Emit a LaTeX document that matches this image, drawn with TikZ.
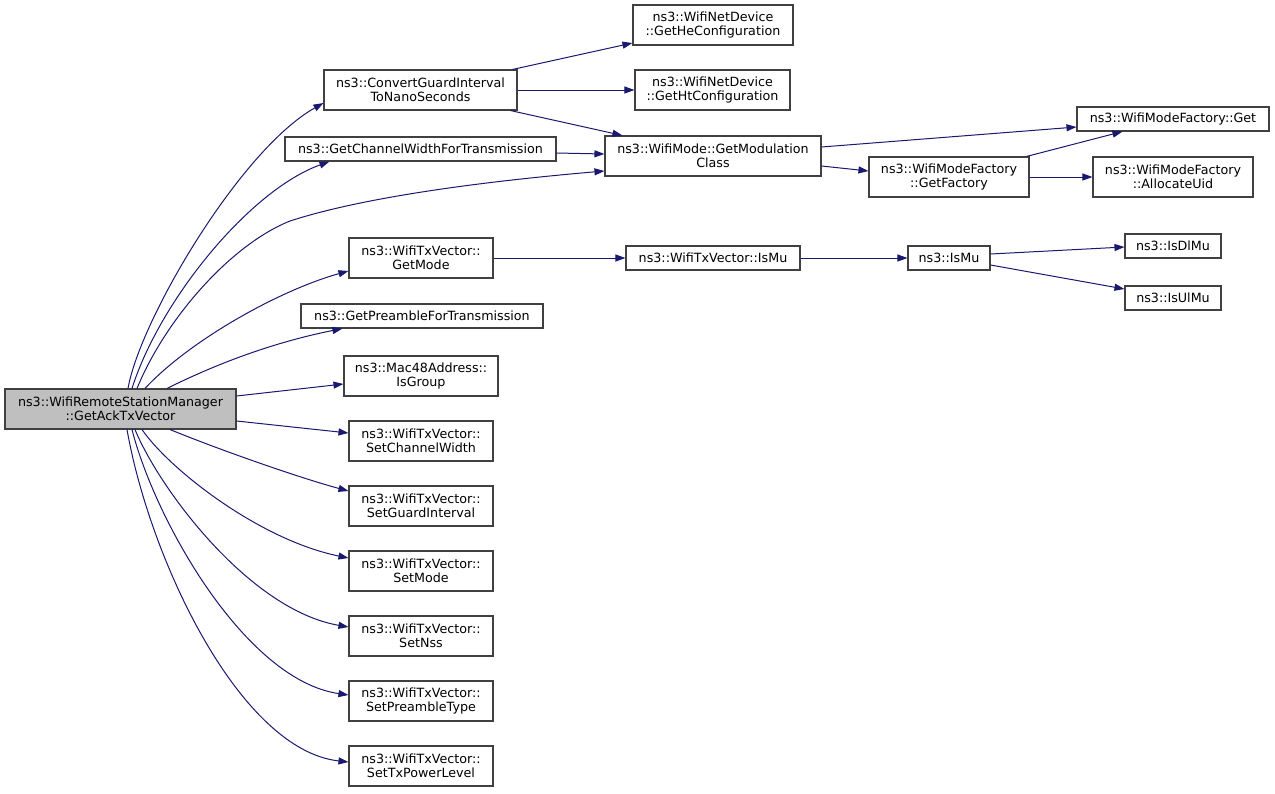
\documentclass[tikz,border=0pt]{standalone}
\usepackage{fontspec}
\setmainfont{DejaVu Sans}
\usetikzlibrary{arrows.meta}
\definecolor{edgecol}{HTML}{191970}
\definecolor{boxcol}{HTML}{404040}
\definecolor{mainfill}{HTML}{BFBFBF}
\tikzset{
  fn/.style={draw=boxcol, line width=1.1pt, fill=white, inner sep=0pt, align=center,
    font=\fontsize{12.7}{14.5}\selectfont},
  mainfn/.style={fn, fill=mainfill},
  call/.style={draw=edgecol, line width=1pt, -{Triangle[length=10pt,width=7pt]}}
}
\newcommand{\fnbox}[6]{\node[#1, minimum width=#4pt, minimum height=#5pt] (#2) at (#3) {#6};}
\begin{document}
\begin{tikzpicture}[x=1pt,y=-1pt]
\useasboundingbox (0,0) rectangle (1275,793);
\fill[white] (0,0) rectangle (1275,793);
% nodes
\fnbox{mainfn}{main}{120.5,409}{231}{40}{ns3::WifiRemoteStationManager\\::GetAckTxVector}
\fnbox{fn}{conv}{420.5,90}{193}{40}{ns3::ConvertGuardInterval\\ToNanoSeconds}
\fnbox{fn}{chw}{420.5,149}{271}{24}{ns3::GetChannelWidthForTransmission}
\fnbox{fn}{he}{713,25}{160}{40}{ns3::WifiNetDevice\\::GetHeConfiguration}
\fnbox{fn}{ht}{712.5,90}{155}{40}{ns3::WifiNetDevice\\::GetHtConfiguration}
\fnbox{fn}{modc}{713,156}{216}{40}{ns3::WifiMode::GetModulation\\Class}
\fnbox{fn}{get}{1173,119}{192}{24}{ns3::WifiModeFactory::Get}
\fnbox{fn}{fact}{949,177}{160}{40}{ns3::WifiModeFactory\\::GetFactory}
\fnbox{fn}{uid}{1173,177}{160}{40}{ns3::WifiModeFactory\\::AllocateUid}
\fnbox{fn}{gmode}{421,258}{144}{40}{ns3::WifiTxVector::\\GetMode}
\fnbox{fn}{txmu}{713,258}{174}{24}{ns3::WifiTxVector::IsMu}
\fnbox{fn}{ismu}{949,258}{82}{24}{ns3::IsMu}
\fnbox{fn}{dl}{1173,246}{96}{24}{ns3::IsDlMu}
\fnbox{fn}{ul}{1173,298}{96}{24}{ns3::IsUlMu}
\fnbox{fn}{pre}{422,316}{242}{24}{ns3::GetPreambleForTransmission}
\fnbox{fn}{grp}{421,376}{154}{40}{ns3::Mac48Address::\\IsGroup}
\fnbox{fn}{scw}{421,441}{144}{40}{ns3::WifiTxVector::\\SetChannelWidth}
\fnbox{fn}{sgi}{421,506}{144}{40}{ns3::WifiTxVector::\\SetGuardInterval}
\fnbox{fn}{smode}{421,571}{144}{40}{ns3::WifiTxVector::\\SetMode}
\fnbox{fn}{snss}{421,636}{144}{40}{ns3::WifiTxVector::\\SetNss}
\fnbox{fn}{spt}{421,701}{144}{40}{ns3::WifiTxVector::\\SetPreambleType}
\fnbox{fn}{stx}{421,766}{144}{40}{ns3::WifiTxVector::\\SetTxPowerLevel}
% edges from main, top side
\draw[call] ([xshift=7.5pt]main.north) .. controls (140,320) and (240,150) .. ([yshift=-13pt]conv.west);
\draw[call] ([xshift=11.5pt]main.north) .. controls (160,300) and (250,190) .. ([xshift=45pt]chw.south west);
\draw[call] ([xshift=16.5pt]main.north) .. controls (165,320) and (230,245) .. (290,221) .. controls (370,195) and (500,180) .. ([yshift=-15pt]modc.west);
\draw[call] ([xshift=24.5pt]main.north) .. controls (190,340) and (280,290) .. ([yshift=-13pt]gmode.west);
\draw[call] ([xshift=46.5pt]main.north) .. controls (200,372) and (260,345) .. ([xshift=42pt]pre.south west);
\draw[call] ([yshift=13pt]main.east) -- ([yshift=-8pt]grp.west);
\draw[call] ([yshift=-12pt]main.east) -- ([yshift=8pt]scw.west);
% edges from main, bottom side
\draw[call] ([xshift=49.5pt]main.south) .. controls (220,450) and (300,478) .. ([yshift=15pt]sgi.west);
\draw[call] ([xshift=21.5pt]main.south) .. controls (170,470) and (260,540) .. ([yshift=13pt]smode.west);
\draw[call] ([xshift=14.5pt]main.south) .. controls (160,490) and (250,610) .. ([yshift=9pt]snss.west);
\draw[call] ([xshift=11.5pt]main.south) .. controls (155,520) and (245,680) .. ([yshift=6pt]spt.west);
\draw[call] ([xshift=6.5pt]main.south) .. controls (150,560) and (240,750) .. ([yshift=4pt]stx.west);
% other edges
\draw[call] ([xshift=-5pt]conv.north east) -- ([yshift=-18pt]he.west);
\draw[call] (conv.east) -- (ht.west);
\draw[call] ([xshift=-7pt]conv.south east) -- ([xshift=18pt]modc.north west);
\draw[call] ([yshift=-4pt]chw.east) -- ([yshift=2pt]modc.west);
\draw[call] ([yshift=9pt]modc.east) -- ([yshift=-8pt]get.west);
\draw[call] ([yshift=-10pt]modc.east) -- ([yshift=6pt]fact.west);
\draw[call] ([xshift=-3pt]fact.north east) -- ([xshift=46pt]get.south west);
\draw[call] (fact.east) -- (uid.west);
\draw[call] (gmode.east) -- (txmu.west);
\draw[call] (txmu.east) -- (ismu.west);
\draw[call] ([yshift=4pt]ismu.east) -- ([yshift=-1pt]dl.west);
\draw[call] ([yshift=-7pt]ismu.east) -- ([yshift=9pt]ul.west);
\end{tikzpicture}
\end{document}
